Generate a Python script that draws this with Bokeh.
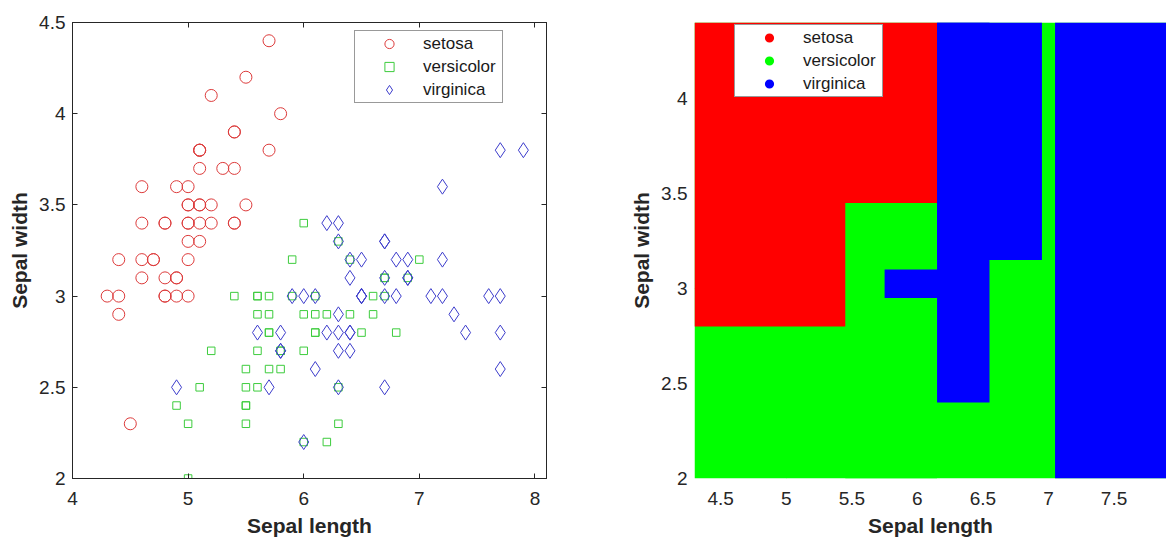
import numpy as np
from bokeh.plotting import figure
from bokeh.layouts import row
from bokeh.models import (Legend, LegendItem, LinearAxis, FixedTicker, ColumnDataSource,
                          CustomLabelingPolicy)
from bokeh.embed import file_html
from bokeh.resources import INLINE

# ---------------- data (Fisher iris: sepal length / sepal width) ----------------
species = ["setosa", "versicolor", "virginica"]

setosa_sl = [5.1, 4.9, 4.7, 4.6, 5.0, 5.4, 4.6, 5.0, 4.4, 4.9, 5.4, 4.8, 4.8, 4.3, 5.8, 5.7, 5.4, 5.1, 5.7, 5.1,
             5.4, 5.1, 4.6, 5.1, 4.8, 5.0, 5.0, 5.2, 5.2, 4.7, 4.8, 5.4, 5.2, 5.5, 4.9, 5.0, 5.5, 4.9, 4.4, 5.1,
             5.0, 4.5, 4.4, 5.0, 5.1, 4.8, 5.1, 4.6, 5.3, 5.0]
setosa_sw = [3.5, 3.0, 3.2, 3.1, 3.6, 3.9, 3.4, 3.4, 2.9, 3.1, 3.7, 3.4, 3.0, 3.0, 4.0, 4.4, 3.9, 3.5, 3.8, 3.8,
             3.4, 3.7, 3.6, 3.3, 3.4, 3.0, 3.4, 3.5, 3.4, 3.2, 3.1, 3.4, 4.1, 4.2, 3.1, 3.2, 3.5, 3.6, 3.0, 3.4,
             3.5, 2.3, 3.2, 3.5, 3.8, 3.0, 3.8, 3.2, 3.7, 3.3]
versicolor_sl = [7.0, 6.4, 6.9, 5.5, 6.5, 5.7, 6.3, 4.9, 6.6, 5.2, 5.0, 5.9, 6.0, 6.1, 5.6, 6.7, 5.6, 5.8, 6.2, 5.6,
                 5.9, 6.1, 6.3, 6.1, 6.4, 6.6, 6.8, 6.7, 6.0, 5.7, 5.5, 5.5, 5.8, 6.0, 5.4, 6.0, 6.7, 6.3, 5.6, 5.5,
                 5.5, 6.1, 5.8, 5.0, 5.6, 5.7, 5.7, 6.2, 5.1, 5.7]
versicolor_sw = [3.2, 3.2, 3.1, 2.3, 2.8, 2.8, 3.3, 2.4, 2.9, 2.7, 2.0, 3.0, 2.2, 2.9, 2.9, 3.1, 3.0, 2.7, 2.2, 2.5,
                 3.2, 2.8, 2.5, 2.8, 2.9, 3.0, 2.8, 3.0, 2.9, 2.6, 2.4, 2.4, 2.7, 2.7, 3.0, 3.4, 3.1, 2.3, 3.0, 2.5,
                 2.6, 3.0, 2.6, 2.3, 2.7, 3.0, 2.9, 2.9, 2.5, 2.8]
virginica_sl = [6.3, 5.8, 7.1, 6.3, 6.5, 7.6, 4.9, 7.3, 6.7, 7.2, 6.5, 6.4, 6.8, 5.7, 5.8, 6.4, 6.5, 7.7, 7.7, 6.0,
                6.9, 5.6, 7.7, 6.3, 6.7, 7.2, 6.2, 6.1, 6.4, 7.2, 7.4, 7.9, 6.4, 6.3, 6.1, 7.7, 6.3, 6.4, 6.0, 6.9,
                6.7, 6.9, 5.8, 6.8, 6.7, 6.7, 6.3, 6.5, 6.2, 5.9]
virginica_sw = [3.3, 2.7, 3.0, 2.9, 3.0, 3.0, 2.5, 2.9, 2.5, 3.6, 3.2, 2.7, 3.0, 2.5, 2.8, 3.2, 3.0, 3.8, 2.6, 2.2,
                3.2, 2.8, 2.8, 2.7, 3.3, 3.2, 2.8, 3.0, 2.8, 3.0, 2.8, 3.8, 2.8, 2.8, 2.6, 3.0, 3.4, 3.1, 3.0, 3.1,
                3.1, 3.1, 2.7, 3.2, 3.3, 3.0, 2.5, 3.0, 3.4, 3.0]

# decision regions of the right panel: rectangles in data units, painted in this order
region_left   = [4.30, 4.30, 5.45, 5.75, 6.15, 6.15, 7.05]
region_right  = [7.90, 6.15, 6.15, 6.35, 6.95, 6.55, 7.90]
region_bottom = [2.00, 2.80, 2.00, 2.95, 3.15, 2.40, 2.00]
region_top    = [4.40, 4.40, 3.45, 3.10, 4.40, 4.40, 4.40]
region_class  = ["versicolor", "setosa", "versicolor", "virginica", "virginica", "virginica", "virginica"]

left_xticks = [4, 5, 6, 7, 8]
left_yticks = [2, 2.5, 3, 3.5, 4, 4.5]
right_xticks = [4.5, 5, 5.5, 6, 6.5, 7, 7.5]
right_yticks = [2, 2.5, 3, 3.5, 4]

sepal_length = {"setosa": setosa_sl, "versicolor": versicolor_sl, "virginica": virginica_sl}
sepal_width = {"setosa": setosa_sw, "versicolor": versicolor_sw, "virginica": virginica_sw}

# ---------------- style ----------------
FONT = "Liberation Sans"
TXT = "#262626"
scatter_colors = {"setosa": "#DD3B3B", "versicolor": "#3DCC3D", "virginica": "#3D3DCC"}
region_colors = {"setosa": "#FF0000", "versicolor": "#00FF00", "virginica": "#0000FF"}

NO_LABELS = CustomLabelingPolicy(code="""
for (const i of [...indices]) { indices.unset(i) }
return indices
""")


def style_axis(ax, ticks, show_labels=True):
    ax.ticker = FixedTicker(ticks=ticks)
    ax.minor_tick_line_color = None
    ax.major_tick_out = 0
    ax.major_tick_in = 5
    ax.major_tick_line_color = TXT
    ax.axis_line_color = TXT
    ax.major_label_text_font = FONT
    ax.major_label_text_font_size = "19px"
    ax.major_label_text_color = TXT
    if show_labels:
        ax.major_label_overrides = {t: f"{t:g}" for t in ticks}
    else:
        ax.major_label_policy = NO_LABELS
        ax.major_label_standoff = 0
    ax.axis_label_text_font = FONT
    ax.axis_label_text_font_size = "21px"
    ax.axis_label_text_font_style = "bold"
    ax.axis_label_text_color = TXT


def make_legend(items, loc):
    lg = Legend(items=items, location=loc)
    lg.label_text_font = FONT
    lg.label_text_font_size = "17px"
    lg.label_text_color = "#1a1a1a"
    lg.glyph_width = 66
    lg.glyph_height = 23
    lg.label_height = 23
    lg.label_width = 78
    lg.label_standoff = 1
    lg.padding = 1
    lg.spacing = 0
    lg.margin = 0
    lg.border_line_color = "#333333"
    lg.border_line_width = 1
    lg.background_fill_color = "white"
    lg.background_fill_alpha = 1.0
    return lg


# ---------------- left panel: scatter ----------------
p1 = figure(width=600, height=540, x_range=(4, 8.1), y_range=(2, 4.5),
            output_backend="svg", toolbar_location=None,
            min_border_left=72, min_border_right=54, min_border_top=22, min_border_bottom=62)
p1.grid.visible = False
p1.outline_line_color = TXT
p1.outline_line_width = 1
p1.background_fill_color = "white"
p1.border_fill_color = "white"

style_axis(p1.xaxis[0], left_xticks)
style_axis(p1.yaxis[0], left_yticks)
p1.xaxis[0].axis_label = "Sepal length"
p1.yaxis[0].axis_label = "Sepal width"
p1.xaxis[0].major_label_standoff = 13
p1.xaxis[0].axis_label_standoff = 6
p1.yaxis[0].major_label_standoff = 7
p1.yaxis[0].axis_label_standoff = 5

top_ax = LinearAxis()
style_axis(top_ax, left_xticks, show_labels=False)
p1.add_layout(top_ax, "above")
right_ax = LinearAxis()
style_axis(right_ax, left_yticks, show_labels=False)
p1.add_layout(right_ax, "right")

marker_kind = {"setosa": ("circle", 12), "versicolor": ("square", 7.5), "virginica": ("diamond", 15)}
left_renderers = []
for s in species:
    m, sz = marker_kind[s]
    left_renderers.append(p1.scatter(sepal_length[s], sepal_width[s], marker=m, size=sz, fill_color=None,
                                     line_color=scatter_colors[s], line_width=1))

p1.add_layout(make_legend([LegendItem(label=s, renderers=[r]) for s, r in zip(species, left_renderers)],
                          (282, 375)))

# ---------------- right panel: decision regions ----------------
p2 = figure(width=566, height=540, x_range=(4.3, 7.9), y_range=(2, 4.4),
            output_backend="svg", toolbar_location=None,
            min_border_left=94, min_border_right=0, min_border_top=19, min_border_bottom=60)
p2.grid.visible = False
p2.outline_line_color = None
p2.background_fill_color = "white"
p2.border_fill_color = "white"

style_axis(p2.xaxis[0], right_xticks)
style_axis(p2.yaxis[0], right_yticks)
for ax in (p2.xaxis[0], p2.yaxis[0]):
    ax.axis_line_color = None
    ax.major_tick_line_color = None
p2.xaxis[0].axis_label = "Sepal length"
p2.yaxis[0].axis_label = "Sepal width"
p2.xaxis[0].major_label_standoff = 13
p2.xaxis[0].axis_label_standoff = 6
p2.yaxis[0].major_label_standoff = 7
p2.yaxis[0].axis_label_standoff = 5

# class samples (tiny, painted first and hidden under the region map) -> legend entries
right_renderers = []
for s in species:
    right_renderers.append(p2.scatter(sepal_length[s], sepal_width[s], marker="circle", size=0.5,
                                      fill_color=region_colors[s], line_color=None))

src = ColumnDataSource(dict(left=region_left, right=region_right, bottom=region_bottom, top=region_top,
                            color=[region_colors[c] for c in region_class]))
p2.quad(left="left", right="right", bottom="bottom", top="top", source=src,
        fill_color="color", line_color=None)

p2.add_layout(make_legend([LegendItem(label=s, renderers=[r]) for s, r in zip(species, right_renderers)],
                          (40, 381)))

layout = row(p1, p2)
open("out.html", "w").write(file_html(layout, INLINE))
